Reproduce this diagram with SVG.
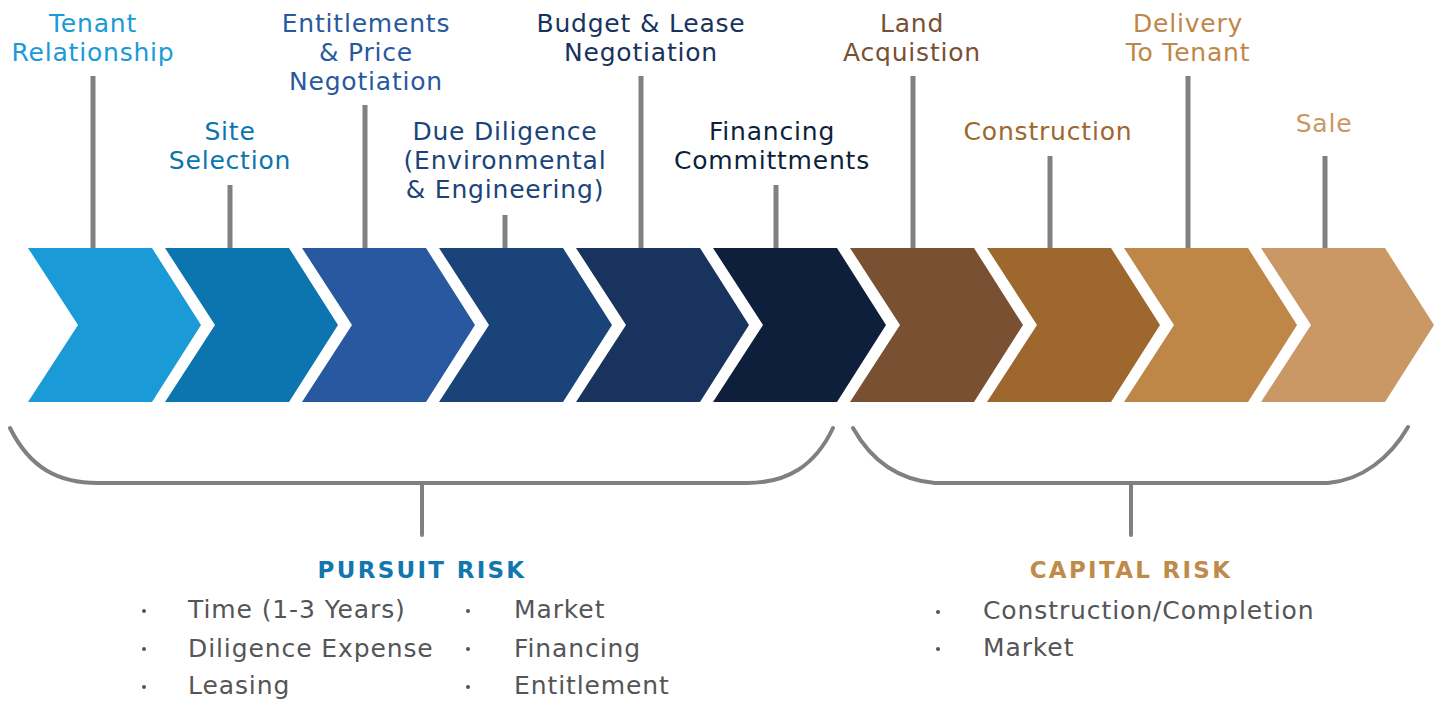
<svg xmlns="http://www.w3.org/2000/svg" xmlns:xlink="http://www.w3.org/1999/xlink" width="1439" height="701" viewBox="0 0 1439 701">
<style>
.lbl{font-family:"DejaVu Sans","Liberation Sans",sans-serif;font-size:25px;letter-spacing:0.8px;text-anchor:middle}
.stem{stroke:#808083;stroke-width:5;fill:none}
.br{stroke:#808083;stroke-width:4;fill:none;stroke-linecap:round}
.hd{font-family:"DejaVu Sans","Liberation Sans",sans-serif;font-size:23px;font-weight:bold;text-anchor:middle;letter-spacing:2.3px}
.it{font-family:"DejaVu Sans","Liberation Sans",sans-serif;font-size:25px;letter-spacing:0.9px;fill:#555558}
.dot{fill:#555558}
</style>
<defs>
<path id="chev" d="M0,248 L124,248 L173,325 L124,402 L0,402 L50,325 Z"/>
</defs>
<rect width="1439" height="701" fill="#ffffff"/>
<g id="connectors">
<line class="stem" x1="93" y1="76" x2="93" y2="249"/>
<line class="stem" x1="230" y1="185" x2="230" y2="249"/>
<line class="stem" x1="365" y1="105" x2="365" y2="249"/>
<line class="stem" x1="505" y1="215" x2="505" y2="249"/>
<line class="stem" x1="641" y1="76" x2="641" y2="249"/>
<line class="stem" x1="776" y1="185" x2="776" y2="249"/>
<line class="stem" x1="913" y1="76" x2="913" y2="249"/>
<line class="stem" x1="1050" y1="156" x2="1050" y2="249"/>
<line class="stem" x1="1188" y1="76" x2="1188" y2="249"/>
<line class="stem" x1="1325" y1="156" x2="1325" y2="249"/>
<path class="br" d="M10,428 C30,468 58,483 98,483 L747,483 C787,483 815,466 833,428"/>
<line class="br" x1="422" y1="483" x2="422" y2="535"/>
<path class="br" d="M853,428 C872,462 900,480 935,483 L1328,483 C1362,480 1390,458 1408,427"/>
<line class="br" x1="1131" y1="483" x2="1131" y2="535"/>
</g>
<g id="stage-1"><use xlink:href="#chev" x="28" fill="#1a9ad7"/><text class="lbl" fill="#1a9ad7" x="93" y="32">Tenant</text><text class="lbl" fill="#1a9ad7" x="93" y="61">Relationship</text></g>
<g id="stage-2"><use xlink:href="#chev" x="165" fill="#0c75b0"/><text class="lbl" fill="#0c75b0" x="230" y="140">Site</text><text class="lbl" fill="#0c75b0" x="230" y="169">Selection</text></g>
<g id="stage-3"><use xlink:href="#chev" x="302" fill="#2859a0"/><text class="lbl" fill="#2859a0" x="366" y="32">Entitlements</text><text class="lbl" fill="#2859a0" x="366" y="61">&amp; Price</text><text class="lbl" fill="#2859a0" x="366" y="90">Negotiation</text></g>
<g id="stage-4"><use xlink:href="#chev" x="439" fill="#1a4479"/><text class="lbl" fill="#1a4479" x="505" y="140">Due Diligence</text><text class="lbl" fill="#1a4479" x="505" y="169">(Environmental</text><text class="lbl" fill="#1a4479" x="505" y="198">&amp; Engineering)</text></g>
<g id="stage-5"><use xlink:href="#chev" x="576" fill="#18335d"/><text class="lbl" fill="#18335d" x="641" y="32">Budget &amp; Lease</text><text class="lbl" fill="#18335d" x="641" y="61">Negotiation</text></g>
<g id="stage-6"><use xlink:href="#chev" x="713" fill="#0e1f3c"/><text class="lbl" fill="#0e1f3c" x="772" y="140">Financing</text><text class="lbl" fill="#0e1f3c" x="772" y="169">Committments</text></g>
<g id="stage-7"><use xlink:href="#chev" x="850" fill="#7a5033"/><text class="lbl" fill="#7a5033" x="912" y="32">Land</text><text class="lbl" fill="#7a5033" x="912" y="61">Acquistion</text></g>
<g id="stage-8"><use xlink:href="#chev" x="987" fill="#9d672e"/><text class="lbl" fill="#9d672e" x="1048" y="140">Construction</text></g>
<g id="stage-9"><use xlink:href="#chev" x="1124" fill="#be8748"/><text class="lbl" fill="#be8748" x="1188" y="32">Delivery</text><text class="lbl" fill="#be8748" x="1188" y="61">To Tenant</text></g>
<g id="stage-10"><use xlink:href="#chev" x="1261" fill="#c99865"/><text class="lbl" fill="#c99865" x="1324" y="132">Sale</text></g>
<g id="pursuit-risk">
<text class="hd" fill="#1277ae" x="422" y="578">PURSUIT RISK</text>
<circle class="dot" cx="144" cy="611" r="2"/><text class="it" x="188" y="618">Time (1-3 Years)</text>
<circle class="dot" cx="144" cy="649" r="2"/><text class="it" x="188" y="657">Diligence Expense</text>
<circle class="dot" cx="144" cy="687" r="2"/><text class="it" x="188" y="694">Leasing</text>
<circle class="dot" cx="468" cy="611" r="2"/><text class="it" x="514" y="618">Market</text>
<circle class="dot" cx="468" cy="649" r="2"/><text class="it" x="514" y="657">Financing</text>
<circle class="dot" cx="468" cy="687" r="2"/><text class="it" x="514" y="694">Entitlement</text>
</g>
<g id="capital-risk">
<text class="hd" fill="#c08a48" x="1131" y="578">CAPITAL RISK</text>
<circle class="dot" cx="938" cy="612" r="2"/><text class="it" x="983" y="619">Construction/Completion</text>
<circle class="dot" cx="938" cy="649" r="2"/><text class="it" x="983" y="656">Market</text>
</g>
</svg>
